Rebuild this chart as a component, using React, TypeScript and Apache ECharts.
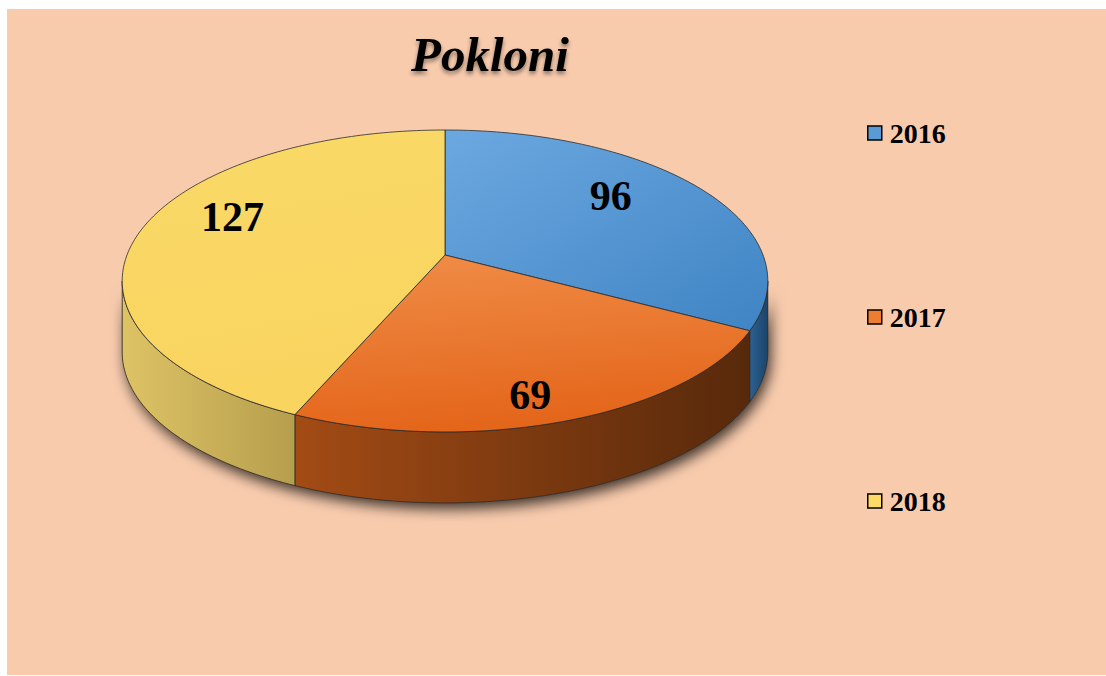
import React, { useEffect, useRef } from "react";
import * as echarts from "echarts";

// ---- data ----
const categories = ["2016", "2017", "2018"];
const values = [96, 69, 127];
const chartTitle = "Pokloni";

// ---- styles ----
const topColors = [
  ["#6CA8E0", "#3F84C4"],
  ["#F08D48", "#E4661B"],
  ["#FAD968", "#F9D45F"],
];
const wallColors = [
  ["#2C6193", "#1B4468"],
  ["#A34B15", "#57290B"],
  ["#DEC365", "#B69E4D"],
];
const legendColors = ["#5B9BD5", "#ED7D31", "#FFD966"];
// label placement inside each slice (radius fraction, position along the slice's angle)
const labelRadius = [0.71, 0.85, 0.75];
const labelAngleFrac = [0.44, 0.54, 0.56];

// ---- 3D projection layout ----
const CX = 445;
const CY = 255;
const SX = 318;
const SY = 146.5;
const K = 0.172;
const DEPTH = 71;
const STROKE = "#2b2b2b";

function proj(f: number, deg: number, h: number): number[] {
  const th = (deg * Math.PI) / 180;
  const X = f * Math.sin(th);
  const Y = -f * Math.cos(th);
  const w = 1 - K * Y;
  return [CX + (SX * X) / w, CY + (SY * Y) / w + h];
}

function arc(a0: number, a1: number, h: number): number[][] {
  const pts: number[][] = [];
  const n = Math.max(2, Math.ceil(Math.abs(a1 - a0)));
  for (let i = 0; i <= n; i++) pts.push(proj(1, a0 + ((a1 - a0) * i) / n, h));
  return pts;
}

const VIS0 = (Math.acos(-K) * 180) / Math.PI;
const VIS1 = 360 - VIS0;

function makeRenderItem(idx: number) {
  return (params: any, api: any) => {
    const total = values.reduce((a, b) => a + b, 0);
    let start = 0;
    for (let j = 0; j < idx; j++) start += values[j];
    const v = api.value(0);
    const a0 = (start / total) * 360;
    const a1 = ((start + v) / total) * 360;
    const children: any[] = [];

    if (idx === 0) {
      // soft shadow under the whole visible rim
      const sh = arc(VIS0, VIS1, 0).concat(arc(VIS1, VIS0, DEPTH));
      children.push({
        type: "polygon",
        z2: 0,
        shape: { points: sh },
        style: {
          fill: "#6a4a30",
          shadowBlur: 14,
          shadowColor: "rgba(0,0,0,0.75)",
          shadowOffsetX: 3,
          shadowOffsetY: 6,
        },
      });
    }

    const w0 = Math.max(a0, VIS0);
    const w1 = Math.min(a1, VIS1);
    if (w1 > w0) {
      const pts = arc(w0, w1, 0).concat(arc(w1, w0, DEPTH));
      children.push({
        type: "polygon",
        z2: 1,
        shape: { points: pts },
        style: {
          fill: new echarts.graphic.LinearGradient(0, 0, 1, 0, [
            { offset: 0, color: wallColors[idx][0] },
            { offset: 1, color: wallColors[idx][1] },
          ]),
          stroke: STROKE,
          lineWidth: 0.8,
        },
      });
    }

    const top = [[CX, CY]].concat(arc(a0, a1, 0));
    children.push({
      type: "polygon",
      z2: 2,
      shape: { points: top },
      style: {
        fill: new echarts.graphic.LinearGradient(0, 0, idx === 0 ? 1 : 0.2, 1, [
          { offset: 0, color: topColors[idx][0] },
          { offset: 1, color: topColors[idx][1] },
        ]),
        stroke: STROKE,
        lineWidth: 0.8,
        lineJoin: "round",
      },
    });

    const la = a0 + (a1 - a0) * labelAngleFrac[idx];
    const lp = proj(labelRadius[idx], la, 0);
    children.push({
      type: "text",
      z2: 3,
      x: lp[0],
      y: lp[1],
      style: {
        text: String(v),
        fill: "#000",
        fontFamily: "Liberation Serif",
        fontWeight: "bold",
        fontSize: 42,
        align: "center",
        verticalAlign: "middle",
      },
    });

    return { type: "group", children };
  };
}

export default function App() {
  const ref = useRef<HTMLDivElement>(null);
  useEffect(() => {
    if (!ref.current) return;
    const chart = echarts.init(ref.current, null, { renderer: "svg" });
    const option: any = {
      animation: false,
      backgroundColor: "#ffffff",
      graphic: [
        {
          type: "rect",
          z: -10,
          silent: true,
          shape: { x: 7, y: 9, width: 1099, height: 666 },
          style: { fill: "#F8CBAD" },
        },
      ],
      title: {
        text: chartTitle,
        left: 406,
        top: 25,
        textStyle: {
          fontFamily: "Liberation Serif",
          fontStyle: "italic",
          fontWeight: "bold",
          fontSize: 49,
          color: "#000",
          textShadowColor: "rgba(0,0,0,0.45)",
          textShadowBlur: 4,
          textShadowOffsetY: 3,
        },
      },
      legend: {
        orient: "vertical",
        left: 867,
        top: 119,
        padding: 0,
        itemGap: 156,
        itemWidth: 14,
        itemHeight: 14,
        icon: "rect",
        itemStyle: { borderColor: "#000", borderWidth: 1.5 },
        textStyle: {
          fontFamily: "Liberation Serif",
          fontWeight: "bold",
          fontSize: 28,
          color: "#000",
          lineHeight: 28,
          padding: [0, 0, 0, 3],
        },
        data: categories,
      },
      series: categories.map((name, i) => ({
        type: "custom",
        name,
        coordinateSystem: "none",
        itemStyle: { color: legendColors[i] },
        renderItem: makeRenderItem(i),
        data: [values[i]],
      })),
    };
    chart.setOption(option);
    return () => chart.dispose();
  }, []);
  return (
    <div
      ref={ref}
      style={{ position: "fixed", left: 0, top: 0, width: 1106, height: 676 }}
    />
  );
}
